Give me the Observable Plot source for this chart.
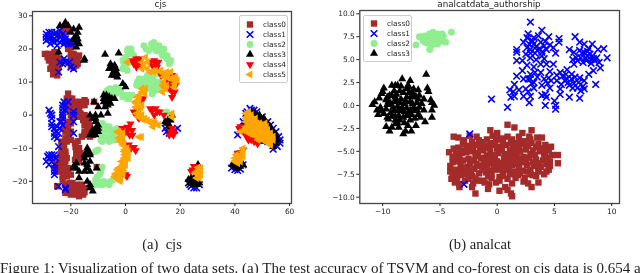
<!DOCTYPE html>
<html><head><meta charset="utf-8">
<script src="https://cdn.jsdelivr.net/npm/d3@7"></script>
<script src="https://cdn.jsdelivr.net/npm/@observablehq/plot@0.6"></script>
<style>
html,body{margin:0;padding:0;background:#fff;overflow:hidden}
#page{position:relative;width:640px;height:273px;overflow:hidden;filter:blur(0.45px)}
#page>*{position:absolute}
.t{font-family:"DejaVu Sans";font-size:8.75px;color:#222;white-space:nowrap;transform:translateX(-50%)}
.c{font-family:"Liberation Serif";font-size:14.6px;color:#222;white-space:pre;transform:translateX(-50%)}
.fig{font-family:"Liberation Serif";font-size:15px;color:#222;white-space:pre}
.leg{background:rgba(255,255,255,.9);border:1px solid #ccc;border-radius:2px;box-sizing:border-box}
.leg svg{display:block}
</style></head><body><div id="page"></div>
<script>
const classes=["class0","class1","class2","class3","class4","class5"];
const colors=["#a52a2a","#0000ff","#90ee90","#000000","#ff0000","#ffa500"];
const cjsXTicks=[-20,0,20,40,60], cjsYTicks=[-20,-10,0,10,20,30];
const anXTicks=[-10,-5,0,5,10], anYTicks=[-10,-7.5,-5,-2.5,0,2.5,5,7.5,10];

const cjs0=[[-29.5,18.5],[-28.5,17.5],[-28,18.5],[-27,17],[-27,15.5],[-26,18],[-26,16.5],[-25,17.5],[-25,15.5],[-26,14.5],[-24.5,14.5],[-26,13],[-25,12],[-26.5,12.3],[-24,17],[-23,16.5],[-18,17],[-19,16],[-20,15],[-18,15],[-17,18],[-20,17.5],[-21,16],[-19,18.5],[-17.5,16.5],[-24,24],[-23,26],[-22,25.5],[-21,26],[-22,22],[-21,21],[-20,20.5],[-21,20],[-28,16.5],[-27.5,14],[-25.5,16],[-24.5,16.5],[-27,18],[-26,19],[-25,13.5],[-24,15.5],[-19,14.5],[-17.5,15.5],[-20,18.5],
[-21,6.5],[-20.5,5],[-20,4],[-19,3.5],[-18,3],[-17,4],[-16,3.5],[-15,4.5],[-14.5,4],[-20,2],[-19,1.5],[-18,0.5],[-17,2],[-20,0],[-16.5,0.5],[-16,-0.5],[-15,0],[-14,-1.5],[-13.5,-2.5],[-13,-3.5],[-15,-3],[-13,-5],[-14,-6],[-13,-6.5],[-11.5,4],[-23,-1],[-22,-3],[-21,-4],[-20,-5],[-21,-6],[-22,-7],[-20,-7.5],[-23.5,-8],[-22.5,-8.7],[-17.5,-7.9],[-18.3,-9.7],[-17.7,-11.7],[-16.4,-12.7],[-22.5,-10],[-16,-6.5],[-18,2],[-19,0],[-21,-2],[-21,2],[-20,-2.5],[-22,-5],[-15,-6],[-18,-11],[-21.5,5],[-20.5,3],[-19.5,5],[-18,4],[-16.5,3],[-15,3],[-19,2.5],[-20.5,1],[-19.5,-1],[-17.5,-0.5],[-15.5,-1.5],[-14.5,-0.5],[-14,-4],[-15,-5],[-12,-6],[-21,-5.5],[-22.5,-4],[-21.5,-8],[-18.5,-8.5],[-17,-10],[-16.5,-11.5],[-18,-13],[-23,-9.5],
[-23.5,-11],[-24,-12.5],[-23,-13],[-24.5,-14],[-23.5,-15],[-22.5,-15.5],[-24,-16],[-23,-17],[-22,-17.5],[-21.5,-18.5],[-23,-18.5],[-24,-16.5],[-18.5,-13.5],[-17,-14],[-18,-12],[-22,-12],[-22,-14],[-21,-16],[-22,-11],[-25,-15],[-25,-17],[-23,-19.5],[-23,-11.5],[-21.5,-13],[-22.5,-14],[-24.5,-13],[-23,-16],[-21,-17.5],[-20,-18],
[-22,-21],[-21,-22],[-20,-21.5],[-19.5,-20.5],[-19,-22],[-20,-23],[-20,-24],[-18,-24],[-16,-21],[-16,-22.5],[-15.5,-24],[-16.5,-23.5],[-15,-22],[-18,-21],[-25,-21.5],[-22,-23.5],[-10.5,-15.7],[54,-9],[55,-8],[-18,-22.5],[-17,-21.5],[-20.5,-20.5],[-19,-23.5],[-21,-23],[-17,-24.5],[-15,-23.3]];
const cjs1=[[-29,24.5],[-29,23.5],[-29,22.5],[-28,25],[-28,24],[-28,23],[-27.5,21.5],[-27,25],[-27,23.5],[-27,22.5],[-26,24.5],[-26,23],[-26,22],[-25.5,25],[-25,24],[-25,22.5],[-25,21],[-24,25.5],[-24,23.5],[-24,22],[-23,24.5],[-23,23],[-22.5,21.5],[-22,24],[-22,23],[-21.5,22],[-21,21.5],[-20.5,22.5],[-20,21.5],[-19.5,22],
[-24,16],[-23,15.5],[-22.5,17],[-22,16],[-20.5,16],[-20,14.5],[-19,14],[-24.5,13],
[-28,1.5],[-27.5,0.5],[-27,0],[-27,-1],[-27,-2.5],[-27,-3.5],[-26,-4],[-26,-5.5],[-26,-6.5],[-25,-7],[-25.5,-5],[-25,-3.5],[-24,-4],[-23,-3],[-23.5,-2],[-23,-1],[-23,0],[-23,1],[-23,2],[-23,3],[-22.5,4],[-21,4],[-22,3],[-19,1],[-19,0],[-19,-2],[-19,-5.5],[-24.5,-9.5],[-24,-2],[-24.5,-5.5],[-22,1.5],
[-29,-14],[-28.5,-12.5],[-28,-12],[-28,-13],[-27,-12],[-26,-12],[-27,-14],[-28,-15],[-26,-15],[-26,-16],[-26,-17],[-26,-18],[-25.5,-13],[-27,-13],[-24.5,-21.5],[-22,-22],[-22,-22.5],
[45.5,2],[46,1.5],[47,1.5],[48,1],[44,0.5],[44.5,1],[50,-0.5],[52,-2],[53,-3],[54,-4],[55,-5],[56,-6.5],[56.5,-7.5],[56.5,-8.5],[55.5,-9.5],[54,-10.3],[52,-8],[43,-2],
[42,-5],[41,-6],[16,-5.5],[15,-5],[19,-4],[18,-4.5],[14.5,-4],[23,-20.5],[23.5,-21],[24,-21.5],[25,-22],[26,-22],[27,-21],[38.8,-16],[40,-16.5],[41,-16.7],[42,-16.3],[43,-15]];
const cjs2=[[0.6,19.5],[2.4,18.5],[0,17.5],[1.2,18.5],[-0.6,15.5],[0.6,13.5],[0,14.5],[-1,16.5],[1.5,16],[2,20],[3,18],[1,20],[-1,14],[6.7,21],[10.4,22],[12.2,21],[14,20],[15.2,18],[16.5,16.5],[8.5,19.5],[11,19.5],[9.5,21.5],[13,19],[15,17],[7.5,20],[11,21],[13.5,18],[10,20.5],[12,19.5],[14,18.5],[16,15.5],
[4.3,10],[8,12],[11.6,12.5],[6,10.5],[9,9.5],[11,7.5],[9.8,6.4],[8,8.5],[4,9],[5,11],[7,11],[10,11],[6,9],[7,10],[9,11],[11,10],[9,8],[10.5,9],[12.5,10],[12,8],
[-6.7,7.5],[-5.7,8],[-3.7,8.3],[-2.7,8.2],[-1.8,7.4],[0,6],[1.2,5],[2.4,6],[-5,6.5],[-3.5,6.5],[-1,6],[-4.5,7.5],[-2.5,7],[-1,5.5],[0.5,5],[1.5,6],[-3,7.7],[-7.5,6.5],
[-8,-3],[-6.7,-4.6],[-5,-5],[-3.7,-6],[-8,-6.5],[-9,-7.6],[-3,-4],[-7,-6.5],[-5.5,-6.5],[-7,-3.5],[-8,-4.5],[-4,-7.5],[-10.4,-10.7],[-11,-11],[-8.5,-2.5],[-6,-3.5],[-9,-5.5],[-5,-7.5],[-6,-8],[-7,-7.5],[-8.5,-8],[-4,-4.5],[-3,-7],[-10,-10.5],
[-8.5,-15.7],[-9,-17],[-10.4,-18.7],[-11,-20.7],[-9.8,-21],[-7.3,-20.5],[-5.5,-20],[-3.7,-19],[-12,-21.5],[-10,-20],[-8,-20],[-9.5,-18],[-6,-21],[-8.5,-21],[-11,-19.5],[-4.5,-19.5],[16,0],[50,-3],[15,1]];
const cjs3=[[-24,27],[-22.5,27],[-22,28],[-21,27],[-19,26],[-17.5,25],[-17,26.5],[-20,25],[-18,24],[-17.5,23],[-18,22],[-17,21.5],[-18,20.5],[-19,23],[-24.5,19],[-15,17],[-15.2,16.5],
[-7.5,18.3],[-2.5,18.7],[-5.5,15.5],[-5,14],[-4,15],[-4.5,13],[-3.5,13],[-4,12],[-3,11.5],[-3.5,14],[-1,9.5],[0,8.5],[-5,12],[-4.8,14.5],[-3,12.5],[-6,14],
[-8,6],[-7,5],[-8,4],[-6,5.5],[-5,5],[-6,4],[-7,3.5],[-4,5],[-7,6],[-11.5,4],[-10,2.5],[-6.5,0.5],[-9,0],[-8,5],[-6.5,3],[-5.5,3.5],[-7.5,2.5],
[-13,0],[-12,-1],[-11,0],[-11,-2],[-10,-3],[-11,-4],[-12,-6],[-10,-5],[-11,-6],[-12,-4.5],[-13,-6],[-11,-1],[-10,-4],
[-14,-11],[-14,-10],[-14,-12],[-15,-12],[-15,-13],[-13,-14],[-14,-15],[-13,-17],[-15,-17],[-19,-16],[-18,-16],[-19,-15.5],[-18,-14.5],[-17,-17],[-17,-19],[-14,-20],[-13,-21],[-13,-22],[-12,-23],[-10.5,-16],[-13,-11.5],[-14,-16],[-15,-14.5],[-13,-12],
[15,-2.5],[16,-3],[17,0],[16,-4],[14.5,-2],[16.5,-1.5],[15.5,-1.5],
[24,-20],[26,-21],[25,-21],[27,-20.5],[23,-19.5],[26.5,-15],[25,-20],[26,-20],[24,-19],[25,-19],[23.5,-20.5],
[40,-15.5],[41,-16],[42,-15.5],[39,-15],[40.5,-15],[43,-15],[41,-15],
[46,1],[47.5,0.5],[49,0],[50.5,-1],[52,-2.5],[53,-3.5],[54,-5],[55,-6],[55.5,-7.5],[55,-8.5],[54,-9.5],[52,-6],[48,-2],[43,-3.5],[45,-4],[47,-3],[45,-1],[50,-8],[53,-8],[51,-1.5],[53,-4.5],[54.5,-7],[48,-0.5],[49.5,-1],[54,-8.5]];
const cjs4=[[4.3,16],[5.5,15.5],[3,15.5],[4,14.5],[5,17],[4,17],[6,14.5],[2.5,16.5],[11,15.5],[9.8,15],[11.5,14.5],[10.5,16.5],[12,16],[9,16],[17,12],[15.2,11],[18.3,9],[17,5.4],[17,7],[16,8],[14,8.5],[16.5,9.5],[18,7],[15,9.5],[13,12],[3.7,0.4],[4.9,-1],[5.5,4.4],[3,1],[4,2],[6.5,5],[4.5,-0.5],[9.8,1.4],[11.6,1],[14,0],[10.5,0],[9,2],[11,2],[12.5,1],[0.6,-3.6],[2.4,-4.6],[1.8,-2.6],[-1.2,-4],[0.5,-5],[1.5,-6],[1,-4],[2.5,-6],[-0.5,-5.5],[3,-9.7],[3.7,-10.7],[1.2,-9],[2,-10],[16.5,-5],[17.7,-5],[17,-4],[16,-6],[17.5,-6],[0,-18],[0.5,-18.5],
[24.5,-16.5],[24,-17],[25,-15.5],[42,-11.3],[41,-12],[43,-10.5],[41.5,-4],[44.6,-7],[48.3,-8.7],[47.6,-5],[42,-3.5],[44,-6],[49,-6],[46,-7.5],[45,-7.5],[43,-5],[47,-8],[41,-11.5]];
const cjs5=[[0.6,16],[6.7,15],[7.3,17.5],[6,14],[12.8,13],[9,13],[14,12.5],[16.5,13],[15,13],[11,13.5],[18.9,10.5],[18.3,11.5],[17.7,8.5],[14,10],[14.6,8],[13.5,9],[15,11.5],[7.3,8],[6,8],[4.3,5.5],[4.9,4.4],[3.7,2.4],[5.5,2.4],[5.5,-0.6],[6,7],[3.5,4],[5,1],[6,0],[4,0.5],[8,-1.6],[11,-2.6],[7,-1],[9,-2],[10,-3.5],[17,-0.6],[17,0.5],[-2.4,-5],[-1.8,-6.6],[-0.6,-8.7],[-1,-7.5],[-2.5,-7],[-1,-5.5],[0.4,-11.7],[-0.5,-13],[0,-13.7],[0.5,-10],[-0.3,-10.5],[1,-13],[-1.8,-15.7],[-1,-15],[0,-15],[-0.5,-16],[-3.7,-17.7],[-1.8,-19.2],[-2.5,-18],[-0.8,-17],[-3,-16.5],[-1,-18],[-3.5,-19],[4.9,-6.6],[5.8,-6.6],
[8,14],[8,16],[6,16],[10,13],[13,13.5],[15.5,12],[17,11],[18,9.5],[16.5,11],[14,11.5],[13.5,7],[15,9],[5,6],[7,6.5],[6,3],[4,3.5],[4.5,-0.5],[6.5,-1.5],[9.5,-2.5],[10.5,-2],[12,-3],[-3,-5],[-2,-5.5],[-1,-9],[-0.5,-11],[0.5,-12.5],[-0.3,-12],[1,-11],[-1.5,-14],[-2.5,-16],[-1.5,-17],[-2,-20],[-3,-18.5],[-4,-18.5],[-0.5,-14.5],[-1,-6.5],[-2,-8],
[26.8,-17.7],[27.5,-16],[26,-19],[27,-19],[26.5,-15.8],[27.5,-18],[25.5,-17.5],[26,-17],[27,-16.8],
[41,-13],[42,-14],[40,-14],[43,-12.5],[43,-10],[42,-12],[40.5,-12],[41,-14.5],[42,-13],[40,-13],[43,-11],
[44,0.5],[45,-0.5],[46,-1],[44,-2],[46,-3],[47,-2],[48,-3.5],[49,-2.5],[47,-4.5],[49,-4.5],[50,-5],[51,-4],[51,-6],[52,-4.5],[53,-5.5],[52,-7],[53,-7],[54,-7.5],[50,-6.5],[51,-7.5],[43,-4.5],[42,-5],[45,-5.5],[53,-8.5],[45,-2],[44,-1],[46,-4.5],[47,-6],[48,-5],[49,-7],[50,-3.5],[48,-6.5],[45,-4],[51,-5],[52,-5.5],[52,-8.5],[46,0],[45,1],[44.5,-0.5],[45.5,-2.5],[46.5,-1.5],[47,-3.5],[48,-2.5],[48.5,-4],[50,-4],[47.5,-5.5],[46,-5.5],[44,-3.5],[49,-5.5],[50.5,-5.5],[51.5,-3.5],[53,-6],[54,-6.5],[50,-7.5],[48.5,-7.5],[53,-9],[52,-6],[44.5,-4.5],[46,-2],[49.5,-3],[47.5,-1],[51,-2.5]];

const an0=[[0.9,-2.1],[1.5,-2.4],[-0.6,-2.7],[0,-3],[3,-2.7],[2.2,-3],[2.8,-3.4],[3.5,-3.5],[3.9,-3.5],[-3.8,-3.4],[-3.4,-3.5],[-1.8,-3.4],[-2.4,-3.3],[-4.2,-5.1],[5.3,-5.4],[5.3,-6.3],[-4.1,-6.6],[-4.1,-7.2],[-3.9,-7.6],[-4,-8],[-3.7,-8.4],[-3.3,-8.6],[-3.3,-8.9],[-1.9,-9.6],[-0.8,-9.1],[0.2,-9.3],[0.9,-9.2],[1.2,-9.6],[1.3,-9.9],[0.7,-8.9],[3,-8.9],[3.6,-8.4],[-1.1,-8.4],[-0.7,-8.6],[-0.1,-8.4],[1.3,-8.5],[2.3,-8.3],[2.7,-8.5],[-2.1,-8.5],[-2.2,-8.9],[4.3,-7.2],[4.5,-7],[3.4,-7.7],[4.1,-7.5],
[-3.4,-4.6],[-3,-4.2],[-2.6,-4.4],[-2.2,-4],[-1.8,-4.3],[-1.3,-4],[-0.9,-3.7],[-0.4,-3.3],[0.4,-3.6],[0.9,-3.4],[1.3,-3.7],[1.9,-3.4],[2.4,-3.9],[3,-4.1],[3.6,-4.2],[4.2,-4.3],[4.7,-4.5],[-3.6,-5.3],[-3.1,-5.2],[-2.7,-5.1],[-2.2,-5],[-1.7,-5.2],[-1.2,-4.9],[-0.7,-4.6],[-0.2,-4.3],[0.3,-4.5],[0.8,-4.3],[1.4,-4.6],[1.9,-4.4],[2.5,-4.8],[3.1,-4.9],[3.7,-5],[4.2,-5.2],[4.8,-5.4],[-3.5,-6.1],[-3,-6],[-2.5,-5.8],[-2,-6],[-1.4,-5.7],[-0.9,-5.5],[-0.4,-5.4],[0.1,-5.2],[0.7,-5.3],[1.2,-5.5],[1.7,-5.3],[2.3,-5.6],[2.8,-5.7],[3.4,-5.9],[4,-6],[4.6,-6.1],[-3.6,-7],[-3.1,-6.8],[-2.6,-6.7],[-2,-6.9],[-1.5,-6.6],[-1,-6.4],[-0.5,-6.3],[0,-6.1],[0.5,-6.3],[1,-6.2],[1.6,-6.4],[2.1,-6.2],[2.6,-6.5],[3.2,-6.6],[3.8,-6.7],[-3.2,-7.6],[-2.7,-7.5],[-2.2,-7.7],[-1.6,-7.4],[-1,-7.3],[-0.5,-7.1],[0,-7],[0.5,-7.3],[1,-7],[1.5,-7.2],[2,-7.4],[2.9,-7.5],[-2.8,-8.2],[-1.7,-8.2],[-0.5,-7.9],[0.2,-7.8],[0.9,-8],[1.6,-7.9],[2.4,-7.9],
[-2.9,-4.9],[-1.5,-4.6],[-0.1,-3.7],[1.1,-4.9],[2.2,-4.2],[3.4,-4.5],[4.4,-4.7],[-3.3,-5.7],[-1.9,-5.5],[-0.6,-5],[0.4,-4.9],[1.6,-4.9],[2.9,-5.3],[4.1,-5.6],[-2.4,-6.4],[-1.2,-6.1],[-0.2,-5.8],[1,-5.8],[1.9,-5.8],[3.1,-6.2],[4.3,-6.4],[-3.3,-7.2],[-2.3,-7.1],[-1.3,-7],[-0.2,-6.6],[0.8,-6.7],[1.9,-6.8],[2.9,-7],[-1.9,-7.9],[-0.8,-7.7],[0.5,-7.7],[1.3,-7.5],[2.2,-7.1],[3.6,-7.2],[-0.6,-4.1],[0.5,-4],[1.6,-4.1],[2.7,-4.4],[3.9,-4.7],[-2.1,-4.6],[-0.3,-6.9],[0.3,-6.6],[-0.9,-6.8],[1.3,-6.5],[-3.8,-4.7],[-3.9,-5.6],[-3.9,-6.2],
[-3.7,-5.8],[-3.2,-6.4],[-2.8,-7.2],[-1.8,-6.4],[-0.7,-5.9],[0.6,-5.7],[1.5,-5.9],[2.5,-6],[3.6,-6.3],[4.4,-5.7],[2,-5],[0,-4.7],[-1,-4.4],[-2.5,-4.8],[3.3,-5.4],[4.5,-4.9],[1.2,-4.1],[0.2,-6.9],[-0.5,-7.6],[1.8,-7.6],[-2.5,-8],[-1.3,-8.2],[-3.5,-8],[-3.5,-7.4],[0.2,-8.2],[1.1,-7.4],[2.6,-7.2],[3.1,-7.6],[3.6,-6.9],[4.6,-6.6],[2,-3.9],[2.9,-3.7],[0.1,-3.7],[-1.6,-3.8],[-2.9,-3.8]];
const an1=[[2.9,9.1],[3.9,8.2],[2.7,7.8],[2.6,7.4],[3.2,7.4],[3.6,7.6],[4.5,7.5],[5.4,7.3],[6.8,7.5],[7.2,6.9],[7.6,6.7],[8.3,6.7],[9.3,6.2],[8.8,6.1],[9.6,5.2],[1.7,6.1],[2.3,6.9],[1.7,5.8],[2.8,6.7],[3.2,6.7],[3.8,6.9],[2.9,6.1],[3.5,6],[2.5,5.6],[1.7,4.9],[2.2,4.9],[2.9,5.2],[4.3,6.1],[4.9,6.3],[5.4,6.9],[6.3,6.1],[6.7,5.8],[7.6,5.8],[8.1,5.6],[7.3,5.2],[7.8,4.9],[8.4,5.1],[8.9,4.7],[8.3,5.4],[7.7,5.2],[9,4.1],[8.4,3.8],[8,3.4],[8.6,2.3],[6.7,4.5],[6.1,3.9],[5.5,3.6],[4.9,4.5],[4.3,4.5],[3.8,4.5],[3.2,4.2],[2.6,4.4],[2.2,3.8],[1.7,3.2],[2.3,2.9],[2.7,2.9],[3.5,3.1],[4.1,2.9],[4.7,2.7],[5.2,2.7],[5.9,2.7],[6.5,2.9],[7.1,2.5],[7.6,2.7],[7.6,1.8],[7.3,1.6],[6.3,0.9],[7.2,0.8],[5.5,1.2],[5,0.5],[5.1,0],[5.1,-0.4],[4.2,0],[2.9,1],[2.8,0.3],[2.3,1],[1.5,1],[1.2,0.9],[1.1,1.7],[1.5,2.3],[0.9,-0.2],[-0.5,0.7],[4.2,1.2],[3.2,1.9],[2.5,1.8],[3.9,2.2],[4.6,1.9],[5.5,1.8],[3.2,2.5],[3.8,3.6],[2.9,3.4],[6.3,2.2],[6.8,3.1],[7,1.9],[3.4,5],[3.9,5.4],[3.1,7],[4.1,6.5],[6.9,5.2],[7.2,6],[8.5,4.9],[8.2,4.6],[8,6.2],[6.5,3.4],[5.7,3.2],[4.5,3],[2.7,1.5],[1.9,1.7],[-2.4,-3.1],[-2.9,-8.6],
[3,7.1],[3.4,6.4],[2.9,5.7],[3.7,6.2],[3.3,5.7],[4.2,7],[2.6,6.3],[3.9,5.8],[4.6,6.6],[4.1,5.1],[5.1,5.7],[7.4,5.7],[7.9,5.4],[8.2,5],[7.5,4.7],[8.7,5.2],[7,4.9],[7.9,5.9],[6.6,5],[6.2,2.5],[6.7,2.4],[6.1,2.9],[7.2,3],[6.6,1.9],[5.6,2.3],[5.2,3.3],[4.4,2.4],[3.9,1.1],[4.3,0.9],[3,2.4],[2.9,2.9],[1.4,1.5],[7.5,2.1],[6,3.4],[4.6,3.7],[3.3,3.6]];
const an2=[[-7.1,6.6],[-6.8,7.5],[-6.6,7.5],[-6.5,7.1],[-6.3,7.6],[-6.2,7.2],[-6.1,6.8],[-6,7.4],[-5.9,7.8],[-5.8,7],[-5.7,6.6],[-5.7,7.5],[-5.6,8],[-5.5,7.2],[-5.4,6.8],[-5.4,7.6],[-5.3,7.3],[-5.2,7.8],[-5.1,7],[-5,7.5],[-4.9,7],[-4.8,7.8],[-4.8,7.3],[-4.7,7.6],[-4.5,6.9],[-4,8],[-5.9,6.1],[-6.3,6.9],[-5.2,6.7],[-5.5,7.7]];
const an3=[[-10.9,0.1],[-10.7,0.4],[-10.5,-0.5],[-10.4,-1],[-10.2,-0.2],[-10.3,0.8],[-10.1,1.3],[-9.9,1.9],[-10,1.5],[-9.7,-0.4],[-9.7,0.6],[-9.6,-1.3],[-9.5,-1.5],[-9.3,0.2],[-9.2,2.2],[-9.4,1.1],[-9.2,1.1],[-9,0.4],[-9,-0.6],[-9.2,-1.2],[-9.2,-2.4],[-9.4,-2.8],[-9.7,-2.3],[-8.9,2.2],[-8.8,1.2],[-8.7,-0.1],[-8.6,-1.1],[-8.9,-2],[-8.5,-1.6],[-8.4,0.7],[-8.4,2.1],[-8.3,2.9],[-8.2,1.4],[-8.1,0.2],[-8.1,-0.7],[-8.1,-1.9],[-8.2,-3.1],[-8,-2.8],[-7.9,-1.1],[-7.9,0.9],[-7.8,2.2],[-7.6,2.7],[-7.7,1.4],[-7.6,0.4],[-7.6,-0.5],[-7.6,-1.6],[-7.5,-2.8],[-7.3,1.8],[-7.3,0.9],[-7.3,-0.2],[-7.2,-1.4],[-7.1,-2.2],[-7,-0.5],[-6.9,0.7],[-6.9,1.7],[-6.7,-1.3],[-6.6,0.2],[-6.4,-0.5],[-6.2,3.4],[-6.1,1.9],[-6,1.5],[-6.3,-1.8],[-5.8,0.6],[-5.7,-0.5],[-5.7,-1.3],[-5.5,0],[-5.7,0.3],[-8.5,0.3],[-9.5,0.4],[-9,1.6],[-8.6,-0.5],[-8.9,0.9],[-7.4,0.2],[-7.9,1.8],[-8.3,-0.2],[-8.7,-1.9],[-7.9,-0.3],[-7.5,1],[-7,0.3],[-6.9,-1],[-8.9,-1.2],[-9.6,0.1],[-10.1,-0.6],
[-9.1,-0.2],[-8.8,0.5],[-8.4,-0.6],[-8.2,-1.3],[-8.6,-2.4],[-7.7,-0.8],[-8,0.5],[-8.5,1.6],[-7.7,2],[-7.5,-1],[-7.1,1],[-7.2,-0.6],[-6.8,-0.2],[-9.9,-0.9],[-9.3,-0.8],[-9.6,0.9],[-8.7,2.2],[-8.9,-1.6],[-7.8,-2.2],[-7.4,1.4],[-6.8,1.1],[-6.4,0.7]];

function symbolTri(rot){
  return {draw(ctx,size){
    const s=Math.sqrt(size/(Math.sqrt(3)/4)), h=s*Math.sqrt(3)/2;
    const pts=[[0,-h*2/3],[s/2,h/3],[-s/2,h/3]].map(([a,b])=>[a*Math.cos(rot)-b*Math.sin(rot),a*Math.sin(rot)+b*Math.cos(rot)]);
    ctx.moveTo(...pts[0]);ctx.lineTo(...pts[1]);ctx.lineTo(...pts[2]);ctx.closePath();
  }};
}
const symbols=["square","times","circle",symbolTri(0),symbolTri(Math.PI),symbolTri(-Math.PI/2)];
const radii=[3.6,3.1,3.4,3,3,3];

function dots(data,i,extra={}){
  const o={symbol:symbols[i],r:radii[i],...extra};
  if(i===1){o.stroke=colors[i];o.strokeWidth=1.6;o.fill="none";}
  else{o.fill=colors[i];o.stroke="none";}
  return Plot.dot(data,o);
}
function panel({series,xDomain,yDomain,xTicks,yTicks,yFmt,width,marginLeft,marginRight,marginTop}){
  const xy={x:d=>d[0],y:d=>d[1]};
  return Plot.plot({
    width,height:225,marginLeft,marginRight,marginTop,marginBottom:22,
    style:{background:"transparent",fontFamily:"DejaVu Sans",fontSize:"7.4px",color:"#222",overflow:"visible"},
    x:{domain:xDomain,label:null},
    y:{domain:yDomain,label:null},
    marks:[
      ...series.map((s,i)=>dots(s,i,xy)),
      Plot.frame({stroke:"#444",strokeWidth:1.3}),
      Plot.axisX(xTicks,{anchor:"bottom",tickSize:3,tickPadding:2,tickFormat:d3.format("d"),fontSize:7.4,label:null}),
      Plot.axisY(yTicks,{anchor:"left",tickSize:3,tickPadding:2,tickFormat:yFmt,fontSize:7.4,label:null})
    ]
  });
}
function legend(n){
  const names=classes.slice(0,n);
  return Plot.plot({
    width:46,height:n*10.7+2,margin:0,marginTop:1,marginBottom:1,
    style:{background:"transparent",fontFamily:"DejaVu Sans",fontSize:"7.4px",color:"#222"},
    x:{axis:null,domain:[0,46]},
    y:{axis:null,domain:names,type:"point",padding:0.5},
    marks:[
      ...names.map((c,i)=>dots([c],i,{y:d=>d,x:()=>9.5})),
      Plot.text(names,{y:d=>d,x:()=>22.5,text:d=>d,textAnchor:"start",fontSize:7.4,fill:"#222"})
    ]
  });
}
const page=document.getElementById("page");
function place(el,l,t,cls){ el.style.left=l+"px"; el.style.top=t+"px"; if(cls) el.className=cls; page.appendChild(el); return el; }

const pA=panel({series:[cjs0,cjs1,cjs2,cjs3,cjs4,cjs5],xDomain:[-34.03,60.7],yDomain:[-26.7,31.3],xTicks:cjsXTicks,yTicks:cjsYTicks,yFmt:d3.format("d"),width:310,marginLeft:32,marginRight:19,marginTop:11});
place(pA,0,0);
const pB=panel({series:[an0,an1,an2,an3],xDomain:[-12,10.68],yDomain:[-10.69,10.36],xTicks:anXTicks,yTicks:anYTicks,yFmt:d3.format(".1f"),width:320,marginLeft:39.3,marginRight:21,marginTop:10});
place(pB,320,0);

function box(n,l,t,w){
  const d=document.createElement("div");
  d.appendChild(legend(n));
  d.style.width=w+"px";
  place(d,l,t,"leg");
}
box(6,239,14.5,48.5);
box(4,363,15,49);

function text(s,l,t,cls){const d=document.createElement("div");d.textContent=s;place(d,l,t,cls);}
text("cjs",160.5,-1,"t");
text("analcatdata_authorship",489,-1,"t");
text("(a)  cjs",162,236,"c");
text("(b) analcat",480,236,"c");
text("Figure 1: Visualization of two data sets. (a) The test accuracy of TSVM and co-forest on cjs data is 0.654 and",0,259.6,"fig");
</script></body></html>
